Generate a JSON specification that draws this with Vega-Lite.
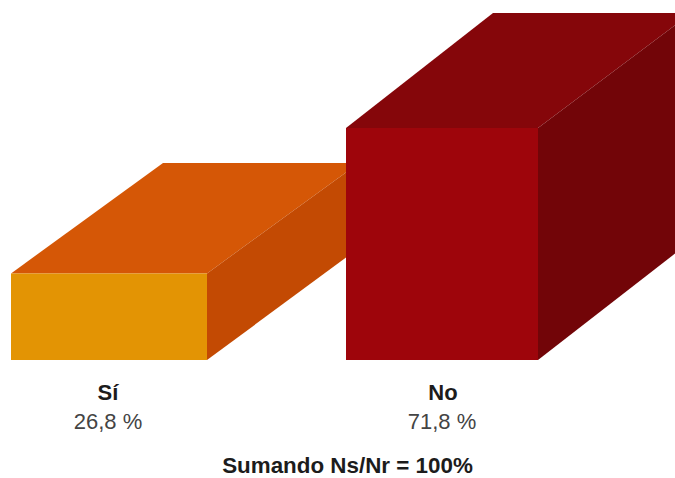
{
  "$schema": "https://vega.github.io/schema/vega-lite/v6.json",
  "width": 675,
  "height": 478,
  "autosize": {"type": "none"},
  "padding": 0,
  "background": "white",
  "config": {"view": {"stroke": null}},
  "datasets": {
    "caras": [
      {"pieza": "Sí techo", "x": 11, "x2": 207, "y": 26.8},
      {"pieza": "Sí techo", "x": 163, "x2": 359, "y": 61.0},
      {"pieza": "Sí lado", "x": 207, "y": 26.8, "y2": 0},
      {"pieza": "Sí lado", "x": 359, "y": 61.0, "y2": 34.7},
      {"pieza": "No techo", "x": 346, "x2": 538, "y": 71.8},
      {"pieza": "No techo", "x": 493, "x2": 691, "y": 107.4},
      {"pieza": "No lado", "x": 538, "y": 71.8, "y2": 0},
      {"pieza": "No lado", "x": 691, "y": 107.4, "y2": 36.8}
    ],
    "frentes": [
      {"pieza": "Sí frente", "x": 11, "x2": 207, "y": 26.8, "y2": 0},
      {"pieza": "No frente", "x": 346, "x2": 538, "y": 71.8, "y2": 0}
    ],
    "rotulos": [
      {"texto": "Sí", "tipo": "categoria", "x": 108, "y": -12.4},
      {"texto": "No", "tipo": "categoria", "x": 443, "y": -12.4},
      {"texto": "26,8 %", "tipo": "valor", "x": 108, "y": -21.4},
      {"texto": "71,8 %", "tipo": "valor", "x": 442, "y": -21.4},
      {"texto": "Sumando Ns/Nr = 100%", "tipo": "nota", "x": 347.5, "y": -35.0}
    ]
  },
  "encoding": {
    "x": {"field": "x", "type": "quantitative", "axis": null, "scale": {"domain": [0, 675], "nice": false, "zero": false}},
    "y": {"field": "y", "type": "quantitative", "axis": null, "scale": {"domain": [-36.53, 111.46], "nice": false, "zero": false}},
    "color": {
      "field": "pieza",
      "type": "nominal",
      "legend": null,
      "scale": {
        "domain": ["Sí techo", "Sí lado", "Sí frente", "No techo", "No lado", "No frente"],
        "range": ["#D55706", "#C34A03", "#E39404", "#85060A", "#720508", "#9E050B"]
      }
    }
  },
  "layer": [
    {
      "data": {"name": "caras"},
      "transform": [{"filter": "datum.pieza === 'Sí techo'"}],
      "mark": {"type": "area", "orient": "horizontal", "clip": true},
      "encoding": {"x2": {"field": "x2"}}
    },
    {
      "data": {"name": "caras"},
      "transform": [{"filter": "datum.pieza === 'Sí lado'"}],
      "mark": {"type": "area", "orient": "vertical", "clip": true},
      "encoding": {"y2": {"field": "y2"}}
    },
    {
      "data": {"name": "frentes"},
      "transform": [{"filter": "datum.pieza === 'Sí frente'"}],
      "mark": {"type": "rect"},
      "encoding": {"x2": {"field": "x2"}, "y2": {"field": "y2"}}
    },
    {
      "data": {"name": "caras"},
      "transform": [{"filter": "datum.pieza === 'No techo'"}],
      "mark": {"type": "area", "orient": "horizontal", "clip": true},
      "encoding": {"x2": {"field": "x2"}}
    },
    {
      "data": {"name": "caras"},
      "transform": [{"filter": "datum.pieza === 'No lado'"}],
      "mark": {"type": "area", "orient": "vertical", "clip": true},
      "encoding": {"y2": {"field": "y2"}}
    },
    {
      "data": {"name": "frentes"},
      "transform": [{"filter": "datum.pieza === 'No frente'"}],
      "mark": {"type": "rect"},
      "encoding": {"x2": {"field": "x2"}, "y2": {"field": "y2"}}
    },
    {
      "data": {"name": "rotulos"},
      "transform": [{"filter": "datum.tipo === 'categoria'"}],
      "mark": {"type": "text", "font": "Liberation Sans", "fontSize": 22, "fontWeight": "bold", "align": "center", "baseline": "alphabetic"},
      "encoding": {"text": {"field": "texto"}, "color": {"value": "#1c1c1c"}}
    },
    {
      "data": {"name": "rotulos"},
      "transform": [{"filter": "datum.tipo === 'nota'"}],
      "mark": {"type": "text", "font": "Liberation Sans", "fontSize": 22.4, "fontWeight": "bold", "align": "center", "baseline": "alphabetic"},
      "encoding": {"text": {"field": "texto"}, "color": {"value": "#1c1c1c"}}
    },
    {
      "data": {"name": "rotulos"},
      "transform": [{"filter": "datum.tipo === 'valor'"}],
      "mark": {"type": "text", "font": "Liberation Sans", "fontSize": 22, "align": "center", "baseline": "alphabetic"},
      "encoding": {"text": {"field": "texto"}, "color": {"value": "#444444"}}
    }
  ]
}
